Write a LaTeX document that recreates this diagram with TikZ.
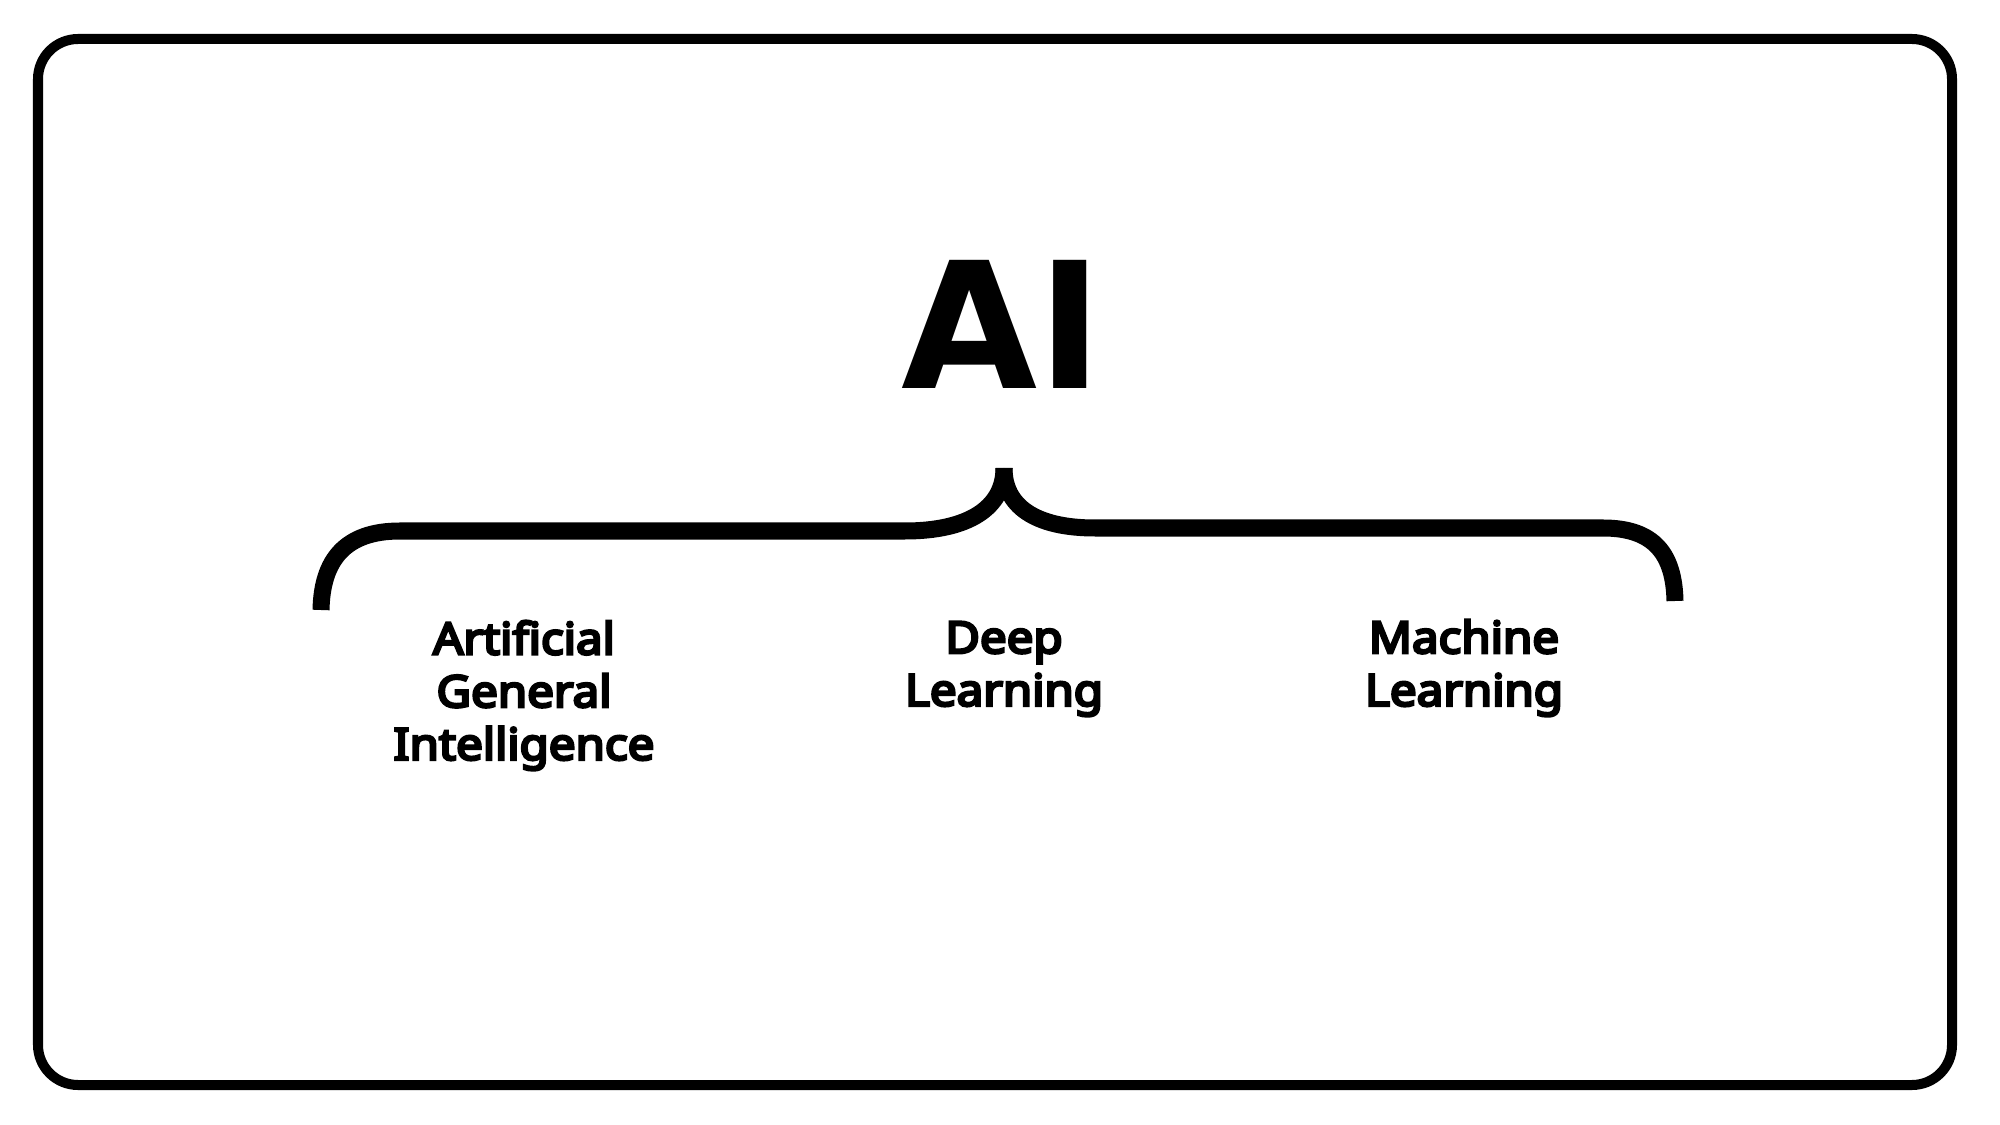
\documentclass[tikz,border=0pt]{standalone}
\usepackage{fontspec}
\setmainfont{Noto Sans}[AutoFakeBold=6,FakeStretch=1.08]
\newfontfamily\headfont{DejaVu Sans}

\begin{document}
\begin{tikzpicture}[
     x=0.01cm, y=-0.01cm,
     % define styles
     frame/.style={
         draw=black,
         line width=0.1cm,
         rounded corners=0.4cm
     },
     brace/.style={
         draw=black,
         line width=0.17cm,
         line cap=butt,
         line join=round
     },
     heading/.style={
         inner sep=0pt,
         anchor=base,
         font=\headfont\bfseries\fontsize{50}{60}\selectfont
     },
     topic/.style={
         align=center,
         inner sep=0pt,
         anchor=north,
         font=\bfseries\fontsize{12.5}{15}\selectfont
     }
]
% page and outer frame
\fill[white] (0,0) rectangle (2000,1125);
\draw[frame] (38,39) rectangle (1952,1085);

% heading and the three fields
\node[heading] (ai) at (1002,389) {AI};
\node[topic] (agi) at (524,620) {Artificial\\General\\Intelligence};
\node[topic] (dl) at (1004,621) {Deep\\Learning};
\node[topic] (ml) at (1464,619) {Machine\\Learning};

% curly brace, tip under the heading
\coordinate (tip) at (1004,468);
\draw[brace] (321,610) .. controls (322,560) and (345,531) .. (400,531)
    -- (905,531) .. controls (968,531) and (1004,508) .. (tip);
\draw[brace] (tip) .. controls (1004,506) and (1035,528) .. (1095,528)
    -- (1603,528) .. controls (1655,528) and (1674,555) .. (1675,601);
\end{tikzpicture}
\end{document}
